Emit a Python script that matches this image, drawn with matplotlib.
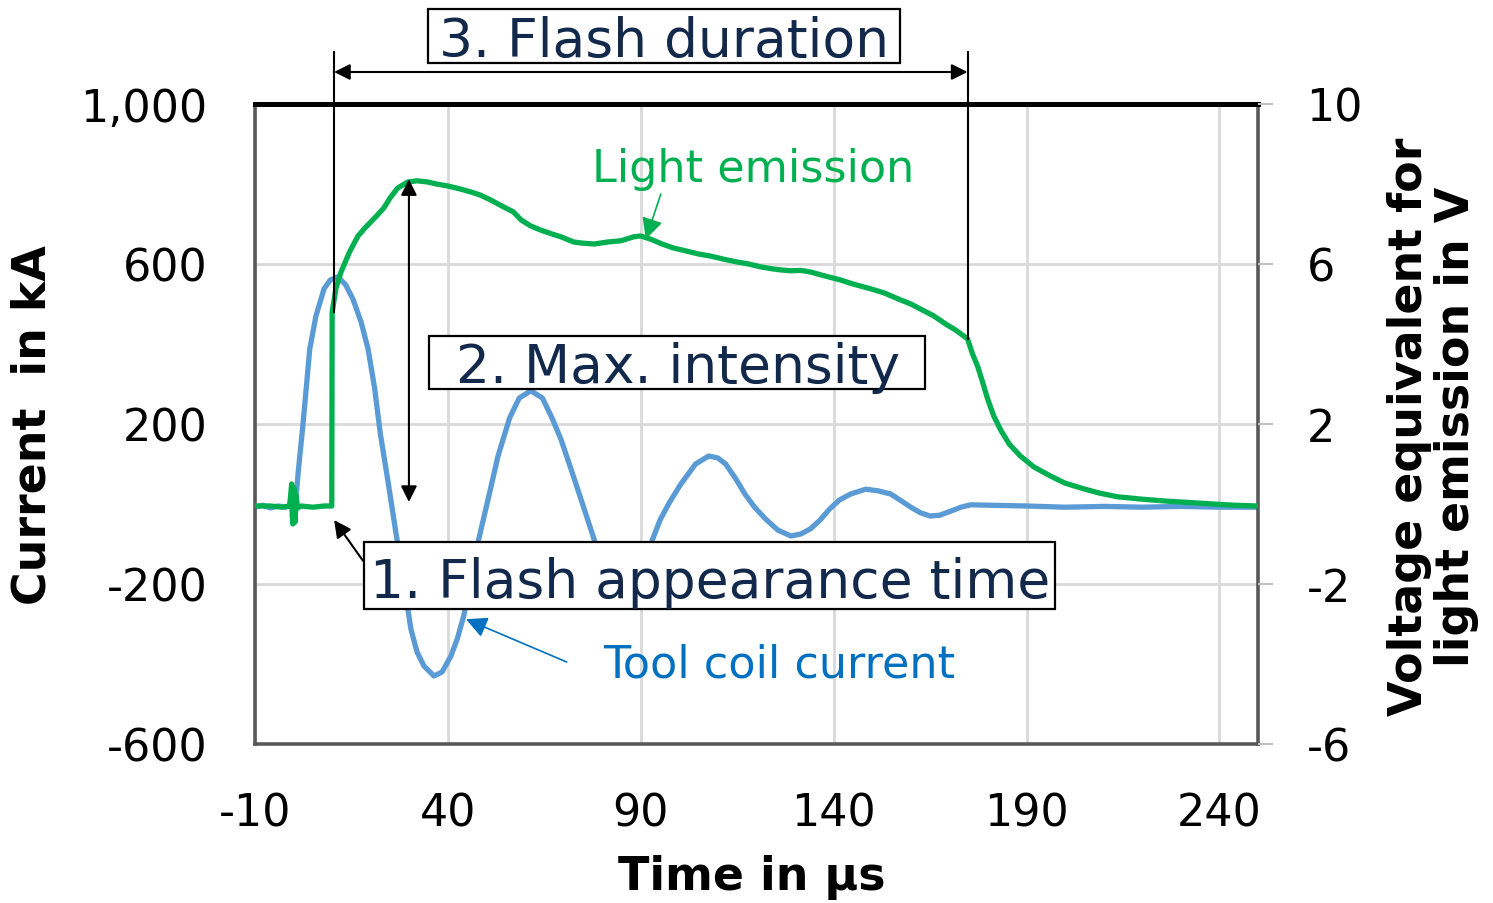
import numpy as np
import matplotlib
matplotlib.use('Agg')
import matplotlib.pyplot as plt
from matplotlib.patches import Rectangle

plt.rcParams['axes.unicode_minus'] = False

# ---- data ----
# tool coil current (time in us, current in kA)
t_cur = [-10, -8, -6, -4, -2, -1, -0.6, -0.3, 0.0, 0.2, 0.4, 0.6, 1.2, 2.4, 4.2,
         5.8, 7.9, 9.5, 11.5, 13.5, 15.4, 17.5, 19.3, 21, 22.5, 24.5, 26.5,
         28.5, 30.4, 32, 33.8, 36.4, 38.5, 40.8, 42.5, 44.1, 46, 48, 50.5, 53,
         56, 58.5, 61.5, 64.5, 67, 69.3, 72, 74.5, 78.3, 81, 84, 87, 90, 92.6,
         95, 97.5, 100.4, 104.2, 107.6, 110, 112, 114.5, 117, 119.5, 122.4,
         125.5, 128.9, 131.5, 134, 136.5, 139, 141.5, 144.4, 148.3, 151.5,
         154.8, 157.5, 160, 162.5, 165, 167.5, 170.3, 173, 175.5, 180, 190,
         200, 210, 220, 230, 240, 250]
i_cur = [-8, -3, -10, -5, -8, -5, 25, -35, 30, -30, 5, 10, 80, 195, 388,
         470, 538, 560, 568, 548, 512, 455, 388, 290, 175, 55, -70,
         -190, -312, -370, -405, -430, -420, -380, -335, -280, -190, -88, 15, 120,
         215, 265, 283, 265, 215, 162, 85, 12, -100, -155, -180, -170, -140, -100,
         -40, 5, 50, 100, 120, 115, 100, 65, 25, -8, -38,
         -65, -80, -75, -62, -40, -12, 10, 25, 37, 33,
         25, 8, -8, -22, -30, -28, -18, -8, -2, -3, -5,
         -8, -6, -8, -6, -8, -8]

# light emission (time in us, voltage in V)
t_lum = [-10, -6, -3, -1, -0.5, -0.2, 0.1, 0.4, 0.7, 1.0, 2, 5, 8, 9.9, 10.0,
         11, 12.3, 14.5, 16.7, 18.5, 20, 21.5, 23.4, 25, 27, 29.6, 32, 34.8,
         37, 40, 43, 46, 48.5, 51.1, 54, 57, 59, 61.5, 64, 67, 69.3, 72.6, 75,
         78, 81.4, 84.8, 88.2, 90, 92.6, 95.5, 98.5, 102, 105, 108, 111.5, 115,
         118, 121, 124, 126.5, 129, 131.5, 134, 137, 141.8, 145, 149.6, 153,
         157.4, 160, 163, 166, 169, 171.6, 174.7, 176, 177.3, 178.6, 179.9,
         181.5, 183.3, 185.5, 188.4, 192, 196.2, 200, 204.8, 209, 213.6, 220,
         226.5, 235, 243.6, 250]
u_lum = [-0.05, -0.05, -0.08, -0.05, 0.5, -0.5, 0.4, -0.45, 0.2, -0.1, -0.05,
         -0.08, -0.05, -0.05, 4.8,
         5.4, 5.8, 6.3, 6.7, 6.9, 7.05, 7.2, 7.4, 7.65, 7.9, 8.05, 8.08, 8.05,
         8.0, 7.95, 7.88, 7.8, 7.72, 7.6, 7.45, 7.3, 7.1, 6.95, 6.85, 6.75, 6.68,
         6.55, 6.52, 6.5, 6.55, 6.58, 6.68, 6.7, 6.62, 6.5, 6.4, 6.32, 6.25, 6.2,
         6.12, 6.05, 6.0, 5.93, 5.88, 5.85, 5.83, 5.84, 5.8, 5.72, 5.6, 5.5,
         5.38, 5.28, 5.1, 5.0, 4.85, 4.7, 4.5, 4.35, 4.13, 3.75, 3.45, 3.05,
         2.63, 2.2, 1.85, 1.5, 1.2, 0.92, 0.7, 0.52, 0.38, 0.27, 0.18, 0.12,
         0.07, 0.02, -0.03, -0.05]

x_ticks = [-10, 40, 90, 140, 190, 240]
y_ticks = [-600, -200, 200, 600, 1000]
y_ticklabels = ['-600', '-200', '200', '600', '1,000']
y2_ticks = [-6, -2, 2, 6, 10]

# flash markers (us / V)
t_flash_start = 10.5
t_flash_end = 174.7
t_max = 29.9
u_max = 8.12

BLUE = '#5B9BD5'
GREEN = '#00B050'
NAVY = '#13294B'
GRID = '#D9D9D9'

fig = plt.figure(figsize=(14.93, 9.04), dpi=100)
ax = fig.add_axes([255 / 1493, 1 - 745 / 904, 1003 / 1493, 640 / 904])
ax2 = ax.twinx()

ax.plot(t_cur, i_cur, color=BLUE, lw=3.8, solid_joinstyle='round', zorder=2)
ax2.plot(t_lum, u_lum, color=GREEN, lw=3.8, solid_joinstyle='round', zorder=2)

ax.set_xlim(-10, 250)
ax.set_ylim(-600, 1000)
ax2.set_ylim(-6, 10)
ax.set_xticks(x_ticks)
ax.set_yticks(y_ticks)
ax.set_yticklabels(y_ticklabels)
ax2.set_yticks(y2_ticks)

ax.grid(True, color=GRID, lw=2.0)
ax.set_axisbelow(True)

ax.tick_params(axis='both', length=0, labelsize=32, pad=34)
ax2.tick_params(axis='y', length=11, width=1.5, color='#BFBFBF', labelsize=32, pad=24)

for s in ['left', 'right', 'bottom']:
    ax.spines[s].set_color('#595959')
    ax.spines[s].set_linewidth(2.6)
ax.spines['top'].set_color('black')
ax.spines['top'].set_linewidth(3.6)
for s in ax2.spines.values():
    s.set_visible(False)

fig.text(33 / 1493, 1 - 425 / 904, 'Current  in kA', rotation=90, ha='center',
         va='center', fontsize=33, fontweight='bold')
fig.text(752 / 1493, 1 - 878 / 904, 'Time in µs', ha='center', va='center',
         fontsize=33, fontweight='bold')
fig.text(1433 / 1493, 1 - 427 / 904, 'Voltage equivalent for\nlight emission in V',
         rotation=90, ha='center', va='center', fontsize=33, fontweight='bold',
         linespacing=1.05, multialignment='center')

arrow2 = dict(arrowstyle='<|-|>', color='black', lw=1.5, mutation_scale=24,
              shrinkA=0, shrinkB=0)


def label_box(x0, x1, y0, y1, xt, yt, text):
    ax2.add_patch(Rectangle((x0, y0), x1 - x0, y1 - y0, fc='white', ec='black',
                            lw=1.6, clip_on=False, zorder=6))
    ax2.text(xt, yt, text, ha='center', va='baseline', fontsize=38.5, color=NAVY,
             clip_on=False, zorder=7)


# 3. flash duration
ax2.plot([t_flash_start, t_flash_start], [11.3, 4.8], color='black', lw=1.5,
         clip_on=False, zorder=5)
ax2.plot([t_flash_end, t_flash_end], [11.3, 4.13], color='black', lw=1.5,
         clip_on=False, zorder=5)
ax2.annotate('', xy=(t_flash_end, 10.8), xytext=(t_flash_start, 10.8),
             arrowprops=arrow2, annotation_clip=False, zorder=5)
label_box(34.8, 157.1, 11.025, 12.375, 96.1, 11.2, '3. Flash duration')

# 2. max intensity
ax2.annotate('', xy=(t_max, 0.05), xytext=(t_max, u_max),
             arrowprops=arrow2, zorder=5)
label_box(35.1, 163.8, 2.875, 4.2, 99.7, 3.04, '2. Max. intensity')

# 1. flash appearance time
ax2.annotate('', xy=(t_flash_start, -0.4), xytext=(18, -1.42),
             arrowprops=dict(arrowstyle='-|>', color='black', lw=1.5,
                             mutation_scale=26, shrinkA=0, shrinkB=0), zorder=5)
label_box(18.2, 197.5, -2.625, -0.95, 108.1, -2.33, '1. Flash appearance time')

# series labels
ax2.text(119, 8.38, 'Light emission', ha='center', va='center', fontsize=32,
         color=GREEN, zorder=6)
ax2.annotate('', xy=(91.3, 6.62), xytext=(95.2, 7.75),
             arrowprops=dict(arrowstyle='-|>', color=GREEN, lw=1.2,
                             mutation_scale=32, shrinkA=0, shrinkB=0), zorder=6)
ax2.text(126, -4.0, 'Tool coil current', ha='center', va='center', fontsize=32,
         color='#0070C0', zorder=6)
ax2.annotate('', xy=(44.7, -2.88), xytext=(70.8, -3.95),
             arrowprops=dict(arrowstyle='-|>', color='#0070C0', lw=1.2,
                             mutation_scale=32, shrinkA=0, shrinkB=0), zorder=6)

fig.savefig('out.png', dpi=100, facecolor='white')
